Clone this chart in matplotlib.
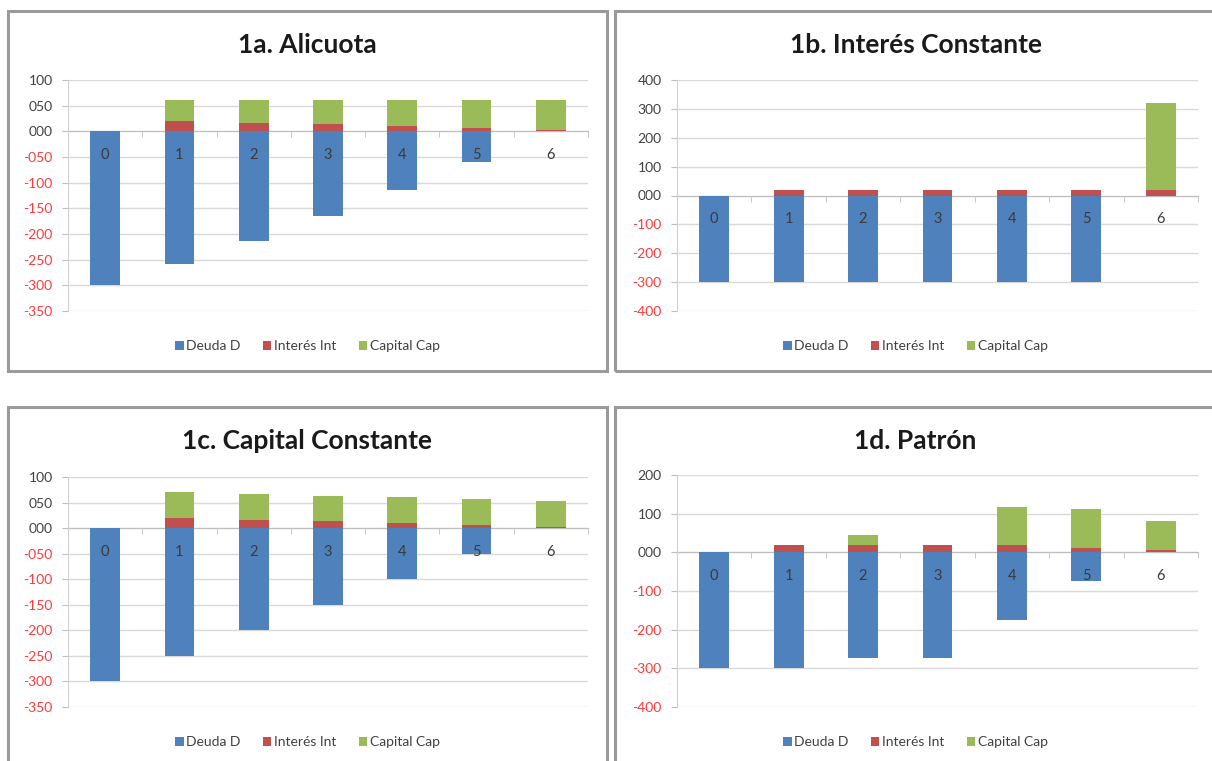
import matplotlib
matplotlib.use('Agg')
import matplotlib.pyplot as plt
import matplotlib.patches as mpatches
import numpy as np

plt.rcParams['font.family'] = ['Lato', 'DejaVu Sans']

W, H = 1212, 761

periods = [0, 1, 2, 3, 4, 5, 6]
series_names = ['Deuda D', 'Interés Int', 'Capital Cap']
colors = ['#4F81BD', '#C0504D', '#9BBB59']

# 1a. Alicuota
deuda_a = [-300, -258, -213, -165, -114, -59, 0]
interes_a = [0, 20, 17, 14, 11, 7, 3]
capital_a = [0, 42, 45, 48, 51, 55, 59]

# 1b. Interés Constante
deuda_b = [-300, -300, -300, -300, -300, -300, 0]
interes_b = [0, 19, 19, 19, 19, 19, 19]
capital_b = [0, 0, 0, 0, 0, 0, 300]

# 1c. Capital Constante
deuda_c = [-300, -250, -200, -150, -100, -50, 0]
interes_c = [0, 20, 16, 13, 10, 7, 3]
capital_c = [0, 50, 50, 50, 50, 50, 50]

# 1d. Patrón
deuda_d = [-300, -300, -273, -273, -175, -75, 0]
interes_d = [0, 20, 20, 18, 18, 11, 5]
capital_d = [0, 0, 25, 0, 98, 100, 75]

ticks_small = [100, 50, 0, -50, -100, -150, -200, -250, -300, -350]
ticks_b = [400, 300, 200, 100, 0, -100, -200, -300, -400]
ticks_d = [200, 100, 0, -100, -200, -300, -400]

panels = [
    # title, data, ticks, panel box (px), plot box (px), legend y (px)
    ('1a. Alicuota', (deuda_a, interes_a, capital_a), ticks_small,
     (8, 11, 607, 371), (68, 80, 588, 311), 346),
    ('1b. Interés Constante', (deuda_b, interes_b, capital_b), ticks_b,
     (615, 11, 1216, 371), (677, 80, 1198, 311), 346),
    ('1c. Capital Constante', (deuda_c, interes_c, capital_c), ticks_small,
     (8, 407, 607, 775), (68, 477, 588, 707), 742),
    ('1d. Patrón', (deuda_d, interes_d, capital_d), ticks_d,
     (615, 407, 1216, 775), (677, 475, 1198, 707), 742),
]


def fx(px):
    return px / W


def fy(py):
    return 1 - py / H


def fmt(v):
    return ('-' if v < 0 else '') + '%03d' % abs(v)


fig = plt.figure(figsize=(W / 100, H / 100), dpi=100)

for title, data, yt, box, pbox, leg_y in panels:
    bx0, by0, bx1, by1 = box
    fig.patches.append(mpatches.Rectangle(
        (fx(bx0), fy(by1)), fx(bx1 - bx0), (by1 - by0) / H,
        transform=fig.transFigure, facecolor='none',
        edgecolor='#9a9a9a', linewidth=2.2, zorder=0))

    px0, py0, px1, py1 = pbox
    ax = fig.add_axes([fx(px0), fy(py1), fx(px1 - px0), (py1 - py0) / H])
    deuda, interes, capital = data
    x = np.array(periods)
    bw = 0.40
    b1 = ax.bar(x, deuda, bw, color=colors[0], zorder=2, label=series_names[0])
    b2 = ax.bar(x, interes, bw, color=colors[1], zorder=2, label=series_names[1])
    b3 = ax.bar(x, capital, bw, bottom=interes, color=colors[2], zorder=2,
                label=series_names[2])

    ax.set_xlim(-0.5, 6.5)
    ax.set_ylim(min(yt), max(yt))
    ax.set_yticks(yt)
    ax.set_yticklabels([fmt(v) for v in yt])
    for lab, v in zip(ax.get_yticklabels(), yt):
        lab.set_color('#ff3b3b' if v < 0 else '#404040')
    ax.tick_params(axis='y', length=4, color='#bfbfbf', labelsize=10, pad=7)
    ax.yaxis.grid(True, color='#d9d9d9', linewidth=1)
    ax.set_axisbelow(True)

    for s in ['top', 'right']:
        ax.spines[s].set_visible(False)
    ax.spines['left'].set_color('#d0d0d0')
    ax.spines['bottom'].set_position(('data', 0))
    ax.spines['bottom'].set_color('#bfbfbf')
    ax.spines['bottom'].set_zorder(1)
    ax.set_xticks([])
    ax.set_xticks(np.arange(0.5, 7, 1), minor=True)
    ax.tick_params(axis='x', which='minor', length=4, color='#bfbfbf',
                   direction='out', labelbottom=False)

    for p in periods:
        ax.annotate(str(p), (p, 0), xytext=(0, -17), textcoords='offset points',
                    ha='center', va='center', fontsize=10.5, color='#3a3a3a',
                    zorder=5)

    cx = fx((bx0 + bx1) / 2)
    fig.text(cx, fy(by0 + 34), title, ha='center', va='center',
             fontsize=19, fontweight='bold', color='#1a1a1a')

    fig.legend(handles=[b1, b2, b3], labels=series_names, loc='center',
               bbox_to_anchor=(fx((bx0 + bx1) / 2), fy(leg_y)), ncol=3,
               frameon=False, fontsize=10, handlelength=0.6,
               handleheight=0.6, handletextpad=0.2, columnspacing=1.6,
               labelcolor='#404040')

fig.savefig('out.png', dpi=100, facecolor='white')
